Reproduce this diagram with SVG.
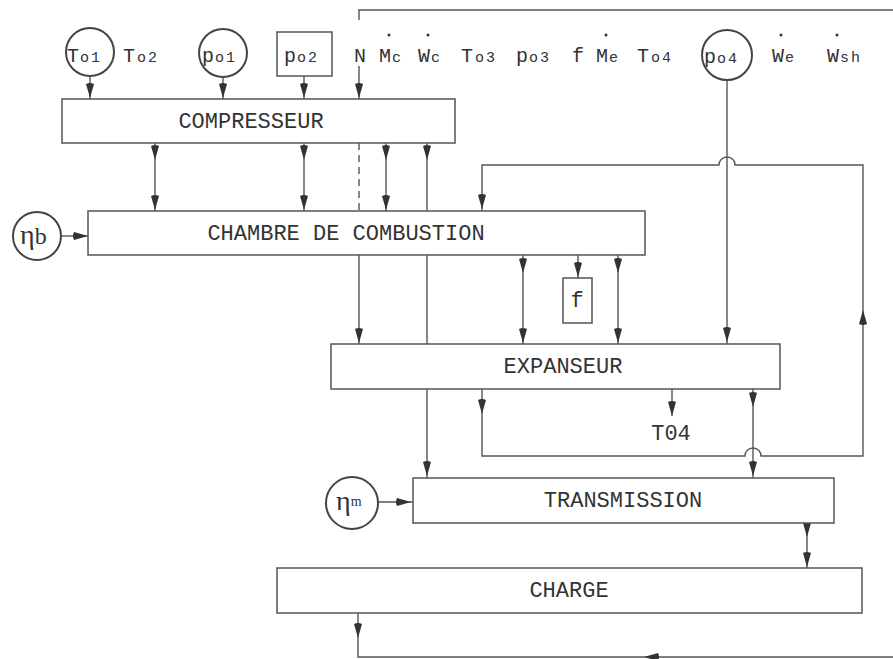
<svg xmlns="http://www.w3.org/2000/svg" xmlns:xlink="http://www.w3.org/1999/xlink" width="893" height="659" viewBox="0 0 893 659">
<style>
.bx{fill:#fff;stroke:#555;stroke-width:1.5}
.ci{fill:#fff;stroke:#444;stroke-width:2}
.ln{fill:none;stroke:#555;stroke-width:1.4}
.dash{stroke-dasharray:7,5}
.lbl{font-family:"Liberation Mono","Courier New",monospace;font-size:22px;fill:#333;text-anchor:middle}
.var{font-family:"Liberation Mono","Courier New",monospace;font-size:20px;fill:#333}
.sub{font-size:15px;letter-spacing:2px}
.eta{font-family:"Liberation Serif","DejaVu Serif",serif;font-size:28px;fill:#333}
.dot{fill:#333}
</style>
<defs>
<path id="ah" d="M0,0 L-4,-14 Q0,-16 4,-14 Z" fill="#333"/>
</defs>
<rect width="893" height="659" fill="#fff"/>

<g id="connectors">
<path class="ln" d="M359,20 L359,10 L893,10"/>
<line class="ln" x1="90" y1="76" x2="90" y2="99"/>
<line class="ln" x1="223" y1="77" x2="223" y2="99"/>
<line class="ln" x1="304" y1="76" x2="304" y2="99"/>
<line class="ln" x1="359" y1="66" x2="359" y2="99"/>
<line class="ln" x1="155" y1="143" x2="155" y2="211"/>
<line class="ln" x1="304" y1="143" x2="304" y2="211"/>
<line class="ln" x1="386" y1="143" x2="386" y2="211"/>
<line class="ln dash" x1="359" y1="143" x2="359" y2="211"/>
<line class="ln" x1="427" y1="143" x2="427" y2="478"/>
<line class="ln" x1="61" y1="236" x2="88" y2="236"/>
<path class="ln" d="M482,211 L482,165 L719,165 A8,8 0 0 1 735,165 L863,165 L863,456 L761,456 A8,8 0 0 0 745,456 L482,456 L482,389"/>
<line class="ln" x1="727" y1="80" x2="727" y2="344"/>
<line class="ln" x1="359" y1="255" x2="359" y2="344"/>
<line class="ln" x1="523" y1="255" x2="523" y2="344"/>
<line class="ln" x1="618" y1="255" x2="618" y2="344"/>
<line class="ln" x1="578" y1="255" x2="578" y2="278"/>
<line class="ln" x1="672" y1="389" x2="672" y2="416"/>
<line class="ln" x1="753" y1="389" x2="753" y2="478"/>
<line class="ln" x1="378" y1="502" x2="413" y2="502"/>
<line class="ln" x1="807" y1="523" x2="807" y2="568"/>
<path class="ln" d="M358,613 L358,657 L893,657"/>

<use xlink:href="#ah" href="#ah" transform="translate(90,98)"/>
<use xlink:href="#ah" href="#ah" transform="translate(223,98)"/>
<use xlink:href="#ah" href="#ah" transform="translate(304,98)"/>
<use xlink:href="#ah" href="#ah" transform="translate(359,98)"/>
<use xlink:href="#ah" href="#ah" transform="translate(155,160)"/>
<use xlink:href="#ah" href="#ah" transform="translate(155,210)"/>
<use xlink:href="#ah" href="#ah" transform="translate(304,160)"/>
<use xlink:href="#ah" href="#ah" transform="translate(304,210)"/>
<use xlink:href="#ah" href="#ah" transform="translate(386,160)"/>
<use xlink:href="#ah" href="#ah" transform="translate(386,210)"/>
<use xlink:href="#ah" href="#ah" transform="translate(427,160)"/>
<use xlink:href="#ah" href="#ah" transform="translate(427,476)"/>
<use xlink:href="#ah" href="#ah" transform="translate(88,236) rotate(-90)"/>
<use xlink:href="#ah" href="#ah" transform="translate(482,209)"/>
<use xlink:href="#ah" href="#ah" transform="translate(863,310) rotate(180)"/>
<use xlink:href="#ah" href="#ah" transform="translate(482,414)"/>
<use xlink:href="#ah" href="#ah" transform="translate(727,342)"/>
<use xlink:href="#ah" href="#ah" transform="translate(359,343)"/>
<use xlink:href="#ah" href="#ah" transform="translate(523,273)"/>
<use xlink:href="#ah" href="#ah" transform="translate(523,343)"/>
<use xlink:href="#ah" href="#ah" transform="translate(618,273)"/>
<use xlink:href="#ah" href="#ah" transform="translate(618,343)"/>
<use xlink:href="#ah" href="#ah" transform="translate(578,277)"/>
<use xlink:href="#ah" href="#ah" transform="translate(672,416)"/>
<use xlink:href="#ah" href="#ah" transform="translate(753,407)"/>
<use xlink:href="#ah" href="#ah" transform="translate(753,476)"/>
<use xlink:href="#ah" href="#ah" transform="translate(411,502) rotate(-90)"/>
<use xlink:href="#ah" href="#ah" transform="translate(807,537)"/>
<use xlink:href="#ah" href="#ah" transform="translate(807,567)"/>
<use xlink:href="#ah" href="#ah" transform="translate(358,638)"/>
<use xlink:href="#ah" href="#ah" transform="translate(644,657) rotate(90)"/>
</g>

<g id="vars">
<text class="var" x="123" y="62">T<tspan class="sub" dx="2">o2</tspan></text>
<text class="var" x="354" y="62">N</text>
<text class="var" x="379" y="62">M<tspan class="sub" dx="1">c</tspan></text>
<circle class="dot" cx="389" cy="35" r="1.5"/>
<text class="var" x="418" y="62">W<tspan class="sub" dx="1">c</tspan></text>
<circle class="dot" cx="428" cy="35" r="1.5"/>
<text class="var" x="461" y="62">T<tspan class="sub" dx="2">o3</tspan></text>
<text class="var" x="516" y="62">p<tspan class="sub" dx="1">o3</tspan></text>
<text class="var" x="572" y="62">f</text>
<text class="var" x="596" y="62">M<tspan class="sub" dx="1">e</tspan></text>
<circle class="dot" cx="606" cy="35" r="1.5"/>
<text class="var" x="637" y="62">T<tspan class="sub" dx="2">o4</tspan></text>
<text class="var" x="772" y="62">W<tspan class="sub" dx="1">e</tspan></text>
<circle class="dot" cx="781" cy="35" r="1.5"/>
<text class="var" x="827" y="62">W<tspan class="sub" dx="1">sh</tspan></text>
<circle class="dot" cx="837" cy="35" r="1.5"/>
</g>

<g id="T01">
<circle class="ci" cx="90" cy="52" r="24"/>
<text class="var" x="67" y="62">T<tspan class="sub" dx="1">o1</tspan></text>
</g>
<g id="p01">
<circle class="ci" cx="223" cy="53" r="24"/>
<text class="var" x="202" y="62">p<tspan class="sub" dx="1">o1</tspan></text>
</g>
<g id="p02">
<rect class="bx" x="277" y="32" width="55" height="44"/>
<text class="var" x="284" y="62">p<tspan class="sub" dx="1">o2</tspan></text>
</g>
<g id="p04">
<circle class="ci" cx="727" cy="55" r="25"/>
<text class="var" x="704" y="63">p<tspan class="sub" dx="1">o4</tspan></text>
</g>
<g id="etab">
<circle class="ci" cx="37" cy="236" r="24"/>
<text class="eta" x="20" y="244">η<tspan font-size="24" dx="0">b</tspan></text>
</g>
<g id="etam">
<circle class="ci" cx="352" cy="503" r="26"/>
<text class="eta" x="336" y="510">η<tspan font-size="14" dy="-4">m</tspan></text>
</g>

<g id="compresseur">
<rect class="bx" x="62" y="99" width="393" height="44"/>
<text class="lbl" x="251" y="128">COMPRESSEUR</text>
</g>
<g id="chambre">
<rect class="bx" x="88" y="211" width="557" height="44"/>
<text class="lbl" x="346" y="240">CHAMBRE DE COMBUSTION</text>
</g>
<g id="f">
<rect class="bx" x="563" y="278" width="29" height="45"/>
<text class="lbl" x="577" y="307">f</text>
</g>
<g id="expanseur">
<rect class="bx" x="331" y="344" width="449" height="45"/>
<text class="lbl" x="563" y="373">EXPANSEUR</text>
</g>
<g id="T04">
<text class="lbl" x="671" y="440">T04</text>
</g>
<g id="transmission">
<rect class="bx" x="413" y="478" width="421" height="45"/>
<text class="lbl" x="623" y="507">TRANSMISSION</text>
</g>
<g id="charge">
<rect class="bx" x="277" y="568" width="585" height="45"/>
<text class="lbl" x="569" y="597">CHARGE</text>
</g>
</svg>
